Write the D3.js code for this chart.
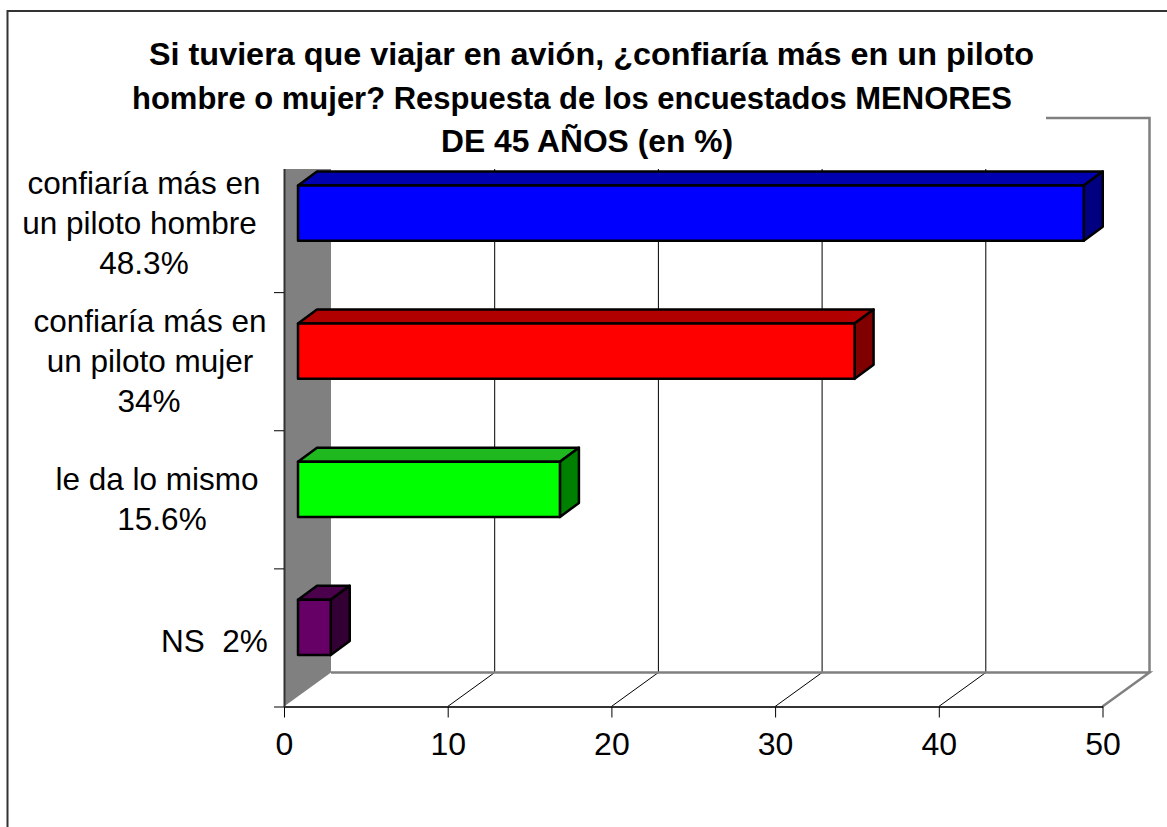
<!DOCTYPE html>
<html>
<head>
<meta charset="utf-8">
<script src="https://cdn.jsdelivr.net/npm/d3@7"></script>
<style>
html, body { margin: 0; padding: 0; background: #fff; }
svg { display: block; }
text { font-family: "Liberation Sans", Arial, sans-serif; fill: #000; }
</style>
</head>
<body>
<div id="chart"></div>
<script>
const categories = ["hombre", "mujer", "mismo", "ns"];
const values = [48, 34, 16, 2];
const labelLines = [
    ["confiaría más en", "un piloto hombre", "48.3%"],
    ["confiaría más en", "un piloto mujer", "34%"],
    ["le da lo mismo", "15.6%"],
    ["NS  2%"]
];
const frontColors = ["#0000ff", "#ff0000", "#00ff00", "#660066"];
const topColors = ["#0000b0", "#b00000", "#1fb81f", "#4a004a"];
const sideColors = ["#000080", "#800000", "#008000", "#330033"];
const xTicks = [0, 10, 20, 30, 40, 50];
const titleLines = [
    "Si tuviera que viajar en avión, ¿confiaría más en un piloto",
    "hombre o mujer? Respuesta de los encuestados MENORES",
    "DE 45 AÑOS (en %)"
];

const width = 1167, height = 827;
// profundidad del piso 3D
const depthX = 47, depthY = 34;
// profundidad de cada barra
const barDepthX = 19, barDepthY = 14;
const barOffsetX = 14, barOffsetY = 10;

const svg = d3.select("#chart").append("svg")
    .attr("width", width)
    .attr("height", height);

const x = d3.scaleLinear().domain([0, 50]).range([284, 1102.5]);
const y = d3.scaleBand().domain(categories).range([154, 706.5]).paddingInner(0.6).paddingOuter(0.3);

// marco exterior
svg.append("path")
    .attr("d", `M7.5,${height}V11H${width}`)
    .attr("fill", "none")
    .attr("stroke", "#333")
    .attr("stroke-width", 2);

const bottom = y.range()[1];
const wallTop = 118;

// pared izquierda gris
svg.append("path")
    .attr("d", `M${x(0)},${wallTop}H${x(0) + depthX}V${bottom - depthY}L${x(0)},${bottom}Z`)
    .attr("fill", "#808080");

// lineas de la grilla y del piso
const grid = svg.append("g");
grid.selectAll("path.grid")
    .data(xTicks.slice(1, -1))
    .join("path")
    .attr("class", "grid")
    .attr("d", d => `M${x(d) + depthX},${wallTop}V${bottom - depthY}L${x(d)},${bottom}`)
    .attr("fill", "none")
    .attr("stroke", "#000")
    .attr("stroke-width", 1);

// contorno gris del fondo
svg.append("path")
    .attr("d", `M${x(0) + depthX},${bottom - depthY}H${x(50) + depthX}L${x(50)},${bottom}M${x(50) + depthX},${bottom - depthY}V${wallTop}H${x(0) + depthX}`)
    .attr("fill", "none")
    .attr("stroke", "#808080")
    .attr("stroke-width", 2.5);

// eje x
const xAxis = svg.append("g")
    .attr("transform", `translate(0,${bottom})`)
    .call(d3.axisBottom(x).tickValues(xTicks).tickSize(11).tickSizeOuter(0).tickPadding(15));
xAxis.select(".domain").attr("stroke", "#333").attr("stroke-width", 2);
xAxis.selectAll("text")
    .style("font-size", "32px")
    .attr("font-family", null);

// eje y
const yTicks = categories.map(c => y(c) + y.bandwidth() / 2 + y.step() / 2);
const yScale = d3.scaleLinear().domain([bottom, wallTop]).range([bottom, wallTop]);
const yAxis = svg.append("g")
    .attr("transform", `translate(${x(0)},0)`)
    .call(d3.axisLeft(yScale).tickValues(yTicks).tickSize(10).tickSizeOuter(0).tickFormat(""));
yAxis.select(".domain").attr("stroke", "#333").attr("stroke-width", 2);

// barras 3D
const bars = svg.append("g")
    .selectAll("g")
    .data(values)
    .join("g")
    .attr("stroke", "#000")
    .attr("stroke-width", 2.5)
    .attr("stroke-linejoin", "round");

const x0 = x(0) + barOffsetX;
const barW = d => x(d) - x(0);
const barY = i => y(categories[i]) - barOffsetY;

bars.append("path")
    .attr("d", (d, i) => `M${x0},${barY(i)}l${barDepthX},${-barDepthY}h${barW(d)}l${-barDepthX},${barDepthY}Z`)
    .attr("fill", (d, i) => topColors[i]);
bars.append("path")
    .attr("d", (d, i) => `M${x0 + barW(d)},${barY(i)}l${barDepthX},${-barDepthY}v${y.bandwidth()}l${-barDepthX},${barDepthY}Z`)
    .attr("fill", (d, i) => sideColors[i]);
bars.append("rect")
    .attr("x", x0)
    .attr("y", (d, i) => barY(i))
    .attr("width", d => barW(d))
    .attr("height", y.bandwidth())
    .attr("fill", (d, i) => frontColors[i]);

// caja blanca del titulo
svg.append("rect")
    .attr("x", 120)
    .attr("y", 30)
    .attr("width", 926)
    .attr("height", 139)
    .attr("fill", "#fff");

// titulo, con el ancho de cada linea ajustado
const titleCenters = [591.5, 572, 587];
const titleWidths = [885, 880, 292];
svg.append("g")
    .selectAll("text")
    .data(titleLines)
    .join("text")
    .attr("x", (d, i) => titleCenters[i])
    .attr("y", (d, i) => 65 + i * 43.5)
    .attr("text-anchor", "middle")
    .attr("textLength", (d, i) => titleWidths[i])
    .attr("lengthAdjust", "spacingAndGlyphs")
    .style("font-size", "31.5px")
    .style("font-weight", "bold")
    .text(d => d);

// etiquetas de categorias
const labelCenters = [[144, 139.5, 144], [150, 150, 149], [157, 162], [214.5]];
const labelFirstBase = [194, 332, 490, 652];
const labels = svg.append("g")
    .selectAll("text")
    .data(labelLines)
    .join("text")
    .attr("text-anchor", "middle")
    .attr("xml:space", "preserve")
    .style("white-space", "pre")
    .style("font-size", "31.5px");
labels.selectAll("tspan")
    .data((d, i) => d.map(t => ({ t, i })))
    .join("tspan")
    .attr("x", (d, j) => labelCenters[d.i][j])
    .attr("y", (d, j) => labelFirstBase[d.i] + j * 40)
    .text(d => d.t);
</script>
</body>
</html>
